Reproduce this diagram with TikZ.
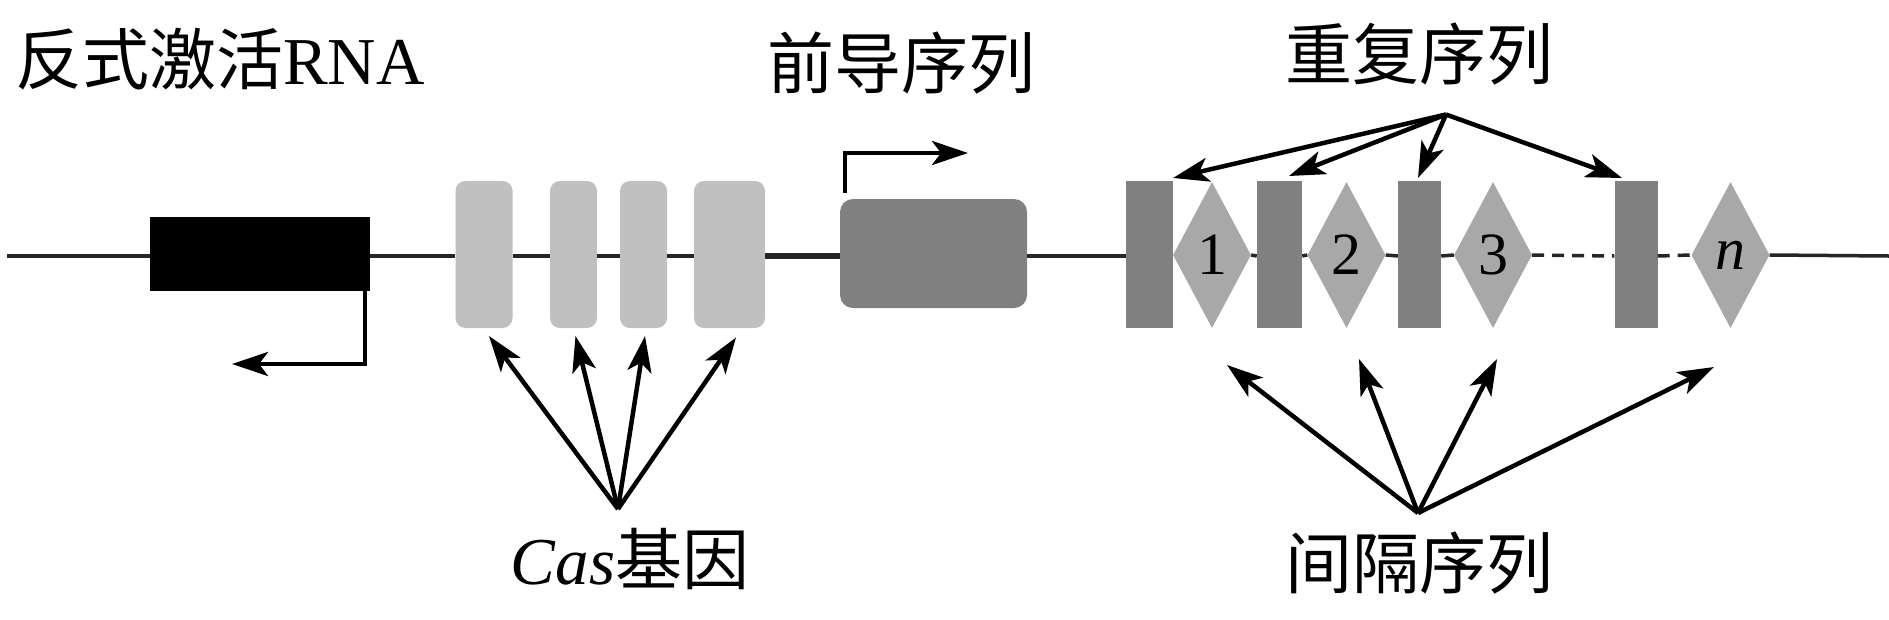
\documentclass[tikz,border=0pt]{standalone}
\usepackage{fontspec}
\setmainfont{Liberation Serif}
\newfontfamily\cjk{Noto Sans CJK SC}
\usetikzlibrary{shapes.geometric,arrows.meta,calc}
\definecolor{casgray}{RGB}{192,192,192}
\definecolor{repgray}{RGB}{128,128,128}
\definecolor{spcgray}{RGB}{168,168,168}
\begin{document}
\begin{tikzpicture}[x=1pt,y=-1pt,
  dna/.style={line width=3.5pt,black!85},
  dnathick/.style={line width=5.5pt,black!85},
  dnadash/.style={line width=3.5pt,black!85,dash pattern=on 12pt off 8pt},
  arr/.style={line width=4.5pt,-{Stealth[length=36pt,width=24pt,inset=9pt]}},
  lbl/.style={inner sep=0pt,font=\fontsize{67pt}{80pt}\selectfont},
  num/.style={inner sep=0pt,font=\fontsize{60pt}{70pt}\selectfont},
  rnabox/.style={rectangle,fill=black,inner sep=0pt,minimum width=220pt,minimum height=74pt},
  casbox/.style={rectangle,rounded corners=10pt,fill=casgray,inner sep=0pt,minimum height=147pt},
  leadbox/.style={rectangle,rounded corners=13pt,fill=repgray,inner sep=0pt,minimum width=187pt,minimum height=109pt},
  repbox/.style={rectangle,fill=repgray,inner sep=0pt,minimum height=147pt},
  spc/.style={diamond,fill=spcgray,inner sep=0pt,minimum width=78pt,minimum height=146pt}
]
\fill[white] (0,0) rectangle (1889,619);
\useasboundingbox (0,0) rectangle (1889,619);

% nodes
\node[rnabox] (rna) at (260,254) {};
\node[casbox,minimum width=57pt] (cas1) at (484,254.5) {};
\node[casbox,minimum width=47pt] (cas2) at (573.5,254.5) {};
\node[casbox,minimum width=47pt] (cas3) at (643.5,254.5) {};
\node[casbox,minimum width=71pt] (cas4) at (729.5,254.5) {};
\node[leadbox] (leader) at (933.5,253.5) {};
\node[repbox,minimum width=47pt] (rep1) at (1149.4,254.5) {};
\node[spc] (d1) at (1212,255) {};
\node[repbox,minimum width=45pt] (rep2) at (1279.5,254.5) {};
\node[spc] (d2) at (1346.5,255) {};
\node[repbox,minimum width=43pt] (rep3) at (1419.5,254.5) {};
\node[spc] (d3) at (1493,255) {};
\node[repbox,minimum width=43pt] (rep4) at (1636,254.5) {};
\node[spc] (dn) at (1730.5,255) {};

\node[num] (n1) at (d1) {1};
\node[num] (n2) at (d2) {2};
\node[num] (n3) at (d3) {3};
\node[num] (nn) at (dn) {\itshape n};

\coordinate (lstart) at (7,256);
\coordinate (lend) at (1889,256);

% DNA line
\draw[dna] (lstart) -- (rna.west|-lstart);
\draw[dna] (rna.east|-lstart) -- (cas1.west|-lstart);
\draw[dna] (cas1.east|-lstart) -- (cas2.west|-lstart);
\draw[dna] (cas2.east|-lstart) -- (cas3.west|-lstart);
\draw[dna] (cas3.east|-lstart) -- (cas4.west|-lstart);
\draw[dnathick] (cas4.east|-lstart) -- (leader.west|-lstart);
\draw[dna] (leader.east|-lstart) -- (rep1.west|-lstart);
\draw[dna] (d1.east) -- (rep2.west|-lstart);
\draw[dna] (rep2.east|-lstart) -- (d2.west);
\draw[dna] (d2.east) -- (rep3.west|-lstart);
\draw[dna] (rep3.east|-lstart) -- (d3.west);
\draw[dnadash] (d3.east) -- (rep4.west|-lstart);
\draw[dnadash] (rep4.east|-lstart) -- (dn.west);
\draw[dna] (dn.east) -- (lend);

% labels
\node[lbl] (tlab) at (220,59) {{\cjk 反式激活}RNA};
\node[lbl] (leadlab) at (901,63) {\cjk 前导序列};
\node[lbl] (replab) at (1419,54) {\cjk 重复序列};
\node[lbl] (caslab) at (630,559) {{\itshape Cas}{\cjk 基因}};
\node[lbl] (spclab) at (1419,563) {\cjk 间隔序列};

% promoter arrows
\coordinate (rnatip) at (232,364);
\draw[arr] ([xshift=-5pt]rna.south east) |- (rnatip);
\coordinate (leadtip) at (968,153);
\draw[arr] ([xshift=5pt,yshift=6pt]leader.north west) |- (leadtip);

% Cas arrows
\coordinate (cashub) at (618,509);
\coordinate (ct1) at (489,336);
\coordinate (ct2) at (575.5,336);
\coordinate (ct3) at (645,336);
\coordinate (ct4) at (736,337.5);
\foreach \t in {ct1,ct2,ct3,ct4} \draw[arr] (cashub) -- (\t);

% repeat arrows
\coordinate (rephub) at (1446,114.5);
\coordinate (rt1) at (1173,178);
\coordinate (rt2) at (1289,176);
\coordinate (rt3) at (1418,178);
\coordinate (rt4) at (1622,178);
\foreach \t in {rt1,rt2,rt3,rt4} \draw[arr] (rephub) -- (\t);

% spacer arrows
\coordinate (spchub) at (1418,513);
\coordinate (st1) at (1227,365);
\coordinate (st2) at (1359,359);
\coordinate (st3) at (1497,359);
\coordinate (st4) at (1714,367);
\foreach \t in {st1,st2,st3,st4} \draw[arr] (spchub) -- (\t);
\end{tikzpicture}
\end{document}
